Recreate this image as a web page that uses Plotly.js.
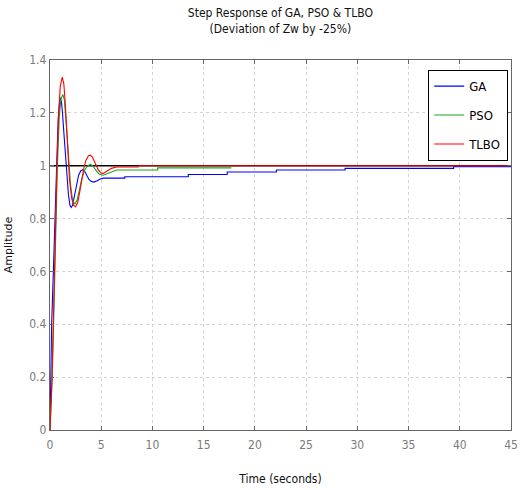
<!DOCTYPE html>
<html>
<head>
<meta charset="utf-8">
<script src="https://cdn.plot.ly/plotly-3.0.1.min.js"></script>
<style>html,body{margin:0;padding:0;background:#fff;}#chart{width:532px;height:490px;}</style>
</head>
<body>
<div id="chart"></div>
<script>
// GA response
const gaTime = [0,0.07,0.16,0.33,0.46,0.65,0.8,0.9,0.98,1.1,1.2,1.4,1.6,1.8,1.95,2.07,2.2,2.4,2.6,2.8,3.0,3.2,3.4,3.6,3.8,4.0,4.3,4.6,4.9,5.2,7.3,7.3,13.5,13.5,17.3,17.3,22.1,22.1,28.8,28.8,39.4,39.4,45];
const gaValue = [0,0.2,0.4,0.6,0.8,1.0,1.18,1.24,1.257,1.245,1.21,1.10,0.98,0.89,0.85,0.842,0.85,0.89,0.935,0.965,0.98,0.985,0.978,0.962,0.948,0.941,0.938,0.943,0.95,0.953,0.953,0.958,0.958,0.967,0.967,0.976,0.976,0.984,0.984,0.99,0.99,0.996,0.996];
// PSO response
const psoTime = [0,0.2,0.35,0.45,0.58,0.72,0.9,1.05,1.25,1.4,1.6,1.8,2.0,2.2,2.43,2.65,2.9,3.1,3.4,3.7,3.95,4.2,4.5,4.8,5.2,5.6,6.0,6.5,10.5,10.5,17.7];
const psoValue = [0,0.18,0.4,0.6,0.8,1.0,1.18,1.25,1.27,1.25,1.15,1.02,0.93,0.87,0.854,0.87,0.915,0.95,0.985,1.0,1.005,0.998,0.982,0.968,0.964,0.97,0.978,0.984,0.984,0.992,0.992];
// TLBO response
const tlboTime = [0,0.2,0.32,0.42,0.55,0.68,0.85,1.0,1.2,1.35,1.5,1.7,1.9,2.1,2.3,2.5,2.7,2.9,3.1,3.3,3.5,3.75,3.95,4.15,4.4,4.7,5.0,5.2,5.5,6.0,6.5,8.6,8.6,45];
const tlboValue = [0,0.2,0.4,0.6,0.8,1.0,1.2,1.3,1.335,1.31,1.23,1.08,0.95,0.88,0.85,0.845,0.86,0.9,0.95,0.99,1.02,1.038,1.04,1.032,1.01,0.985,0.972,0.971,0.978,0.99,0.995,0.995,1.0,1.0];
// steady-state reference
const refTime = [0,45];
const refValue = [1,1];
const xTicks = [0,5,10,15,20,25,30,35,40,45];
const yTicks = [0,0.2,0.4,0.6,0.8,1,1.2,1.4];

const narrow = "DejaVu Sans Condensed, Liberation Sans Narrow, sans-serif";

const traces = [
  {x: refTime, y: refValue, mode: 'lines', line: {color: '#000000', width: 1.6}, showlegend: false, hoverinfo: 'skip'},
  {x: gaTime, y: gaValue, mode: 'lines', name: 'GA', legendgroup: 'a', line: {color: '#0000ff', width: 1.1}},
  {x: psoTime, y: psoValue, mode: 'lines', name: 'PSO', legendgroup: 'b', line: {color: '#1aa31a', width: 1.1}},
  {x: tlboTime, y: tlboValue, mode: 'lines', name: 'TLBO', legendgroup: 'c', line: {color: '#ff0000', width: 1.1}}
];

const axisCommon = {
  showline: true, linecolor: '#666666', linewidth: 1.2, mirror: 'ticks',
  ticks: 'inside', ticklen: 4, tickcolor: '#666666',
  showgrid: true, gridcolor: '#d4d4d4', griddash: 'dot', gridwidth: 1,
  zeroline: false,
  tickfont: {family: narrow, size: 12, color: '#7a7a7a'}
};

const layout = {
  width: 532, height: 490,
  margin: {l: 50, r: 21, t: 60, b: 60},
  paper_bgcolor: '#ffffff', plot_bgcolor: '#ffffff',
  title: {text: 'Step Response of GA, PSO & TLBO<br>(Deviation of Zw by -25%)', font: {family: narrow, size: 12, color: '#111111'},
    x: 0.527, xanchor: 'center', yref: 'container', y: 0.965, yanchor: 'middle'},
  xaxis: Object.assign({}, axisCommon, {range: [0, 45], tickvals: xTicks, ticktext: xTicks.map(String), ticklabelstandoff: 3,
    title: {text: 'Time (seconds)', font: {family: narrow, size: 12, color: '#111111'}, standoff: 24}}),
  yaxis: Object.assign({}, axisCommon, {range: [0, 1.4], tickvals: yTicks, ticktext: yTicks.map(String),
    title: {text: 'Amplitude', font: {family: 'DejaVu Sans, sans-serif', size: 11, color: '#111111'}, standoff: 14}}),
  legend: {x: 0.9935, xanchor: 'right', y: 0.973, yanchor: 'top', bgcolor: '#ffffff', bordercolor: '#000000', borderwidth: 1.2,
    font: {family: narrow, size: 13, color: '#000000'}, tracegroupgap: 9, itemwidth: 30},
  showlegend: true
};

Plotly.newPlot('chart', traces, layout, {displayModeBar: false, staticPlot: true});
</script>
</body>
</html>
